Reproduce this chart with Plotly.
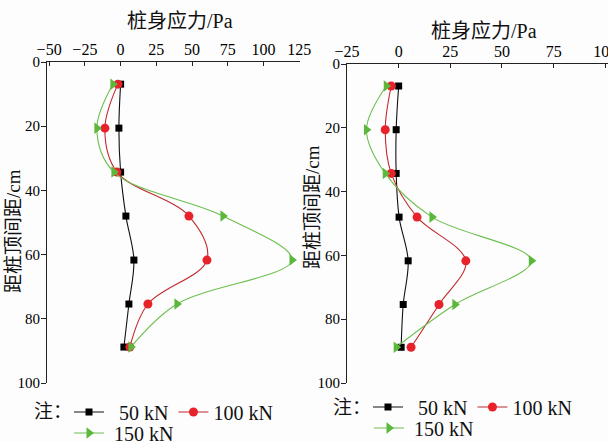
import plotly.graph_objects as go

# ---- data ----
depth = [6.9, 20.6, 34.3, 48.0, 61.7, 75.4, 88.8]          # 距桩顶间距 / cm
series_names = ["50 kN", "100 kN", "150 kN"]

left_50 = [0.0, -1.2, 0.0, 3.7, 9.3, 5.8, 2.3]
left_100 = [-1.9, -11.0, -2.6, 47.8, 60.4, 19.1, 6.5]
left_150 = [-5.4, -16.6, -4.7, 71.6, 119.9, 39.4, 7.2]

right_50 = [0.0, -1.2, -1.2, 0.2, 4.6, 2.2, 1.2]
right_100 = [-3.6, -6.5, -3.6, 8.9, 32.5, 19.5, 6.0]
right_150 = [-6.0, -15.6, -6.5, 16.1, 64.2, 27.2, -1.2]

x_title = "桩身应力/Pa"
y_title = "距桩顶间距/cm"
legend_note = "注："

# ---- layout helpers (pixel -> paper) ----
W, H = 608, 442
ML, MR, MT, MB = 47, 0, 62, 59
PW, PH = W - ML - MR, H - MT - MB


def px(p):
    return (p - ML) / PW


def py(p):
    return (H - MB - p) / PH


FONT = "Liberation Serif, Noto Sans CJK SC, serif"

styles = [
    dict(line=dict(color="#111111", width=1.1),
         marker=dict(symbol="square", size=7, color="#000000")),
    dict(line=dict(color="#c0282c", width=1.1),
         marker=dict(symbol="circle", size=9, color="#e8222a")),
    dict(line=dict(color="#6cbf4e", width=1.1),
         marker=dict(symbol="triangle-right", size=10, color="#5cb83c")),
]

fig = go.Figure()

left_sets = [left_50, left_100, left_150]
right_sets = [right_50, right_100, right_150]
left_legends = ["legend", "legend", "legend2"]
right_legends = ["legend3", "legend3", "legend4"]
labels = ["\u00a0\u00a0" + series_names[0], series_names[1], "\u00a0" + series_names[2]]

for i, vals in enumerate(left_sets):
    fig.add_trace(go.Scatter(
        x=vals, y=depth, mode="lines+markers", name=labels[i],
        line=dict(shape="spline", **styles[i]["line"]), marker=styles[i]["marker"],
        xaxis="x", yaxis="y", legend=left_legends[i]))

for i, vals in enumerate(right_sets):
    fig.add_trace(go.Scatter(
        x=vals, y=depth, mode="lines+markers", name=labels[i],
        line=dict(shape="spline", **styles[i]["line"]), marker=styles[i]["marker"],
        xaxis="x2", yaxis="y2", legend=right_legends[i]))

axis_common = dict(showgrid=False, zeroline=False, showline=True,
                   linecolor="#222222", linewidth=1.2,
                   tickcolor="#222222", ticklabeloverflow="allow")
xtick_font = dict(family=FONT, size=16, color="#000000")
ytick_font = dict(family=FONT, size=15, color="#000000")

fig.update_layout(
    width=W, height=H,
    margin=dict(l=ML, r=MR, t=MT, b=MB, autoexpand=False),
    paper_bgcolor="#fdfdfd", plot_bgcolor="#fdfdfd",
    font=dict(family=FONT, color="#111111"),
    xaxis=dict(domain=[0, px(300)], range=[-51.5, 125.5], side="top",
               anchor="y", tick0=-50, dtick=25, ticks="inside", ticklen=4,
               tickfont=xtick_font, **axis_common),
    yaxis=dict(domain=[0, 1], range=[100, 0], anchor="x", tick0=0, dtick=20,
               ticks="outside", ticklen=5, tickfont=ytick_font,
               ticklabelstandoff=-2, **axis_common),
    xaxis2=dict(domain=[px(347), 1], range=[-25, 101.3], side="top",
                anchor="y2", tick0=-25, dtick=25, ticks="inside", ticklen=4,
                tickfont=xtick_font, **axis_common),
    yaxis2=dict(domain=[0, py(64)], range=[100, 0], anchor="x2", tick0=0,
                dtick=20, ticks="outside", ticklen=5, tickfont=ytick_font,
                ticklabelstandoff=-2, **axis_common),
)

leg_common = dict(orientation="h", bgcolor="rgba(0,0,0,0)", borderwidth=0,
                  font=dict(family=FONT, size=20, color="#111111"),
                  xanchor="left", yanchor="middle", itemclick=False,
                  tracegroupgap=0)

fig.update_layout(
    legend=dict(x=px(69), y=py(412), **leg_common),
    legend2=dict(x=px(69), y=py(433), **leg_common),
    legend3=dict(x=px(368), y=py(407), **leg_common),
    legend4=dict(x=px(369), y=py(428), **leg_common),
)

note_font = dict(family=FONT, size=19, color="#111111")
fig.add_annotation(text=legend_note, x=px(32), y=py(412), xref="paper", yref="paper",
                   showarrow=False, font=note_font, xanchor="left", yanchor="middle")
fig.add_annotation(text=legend_note, x=px(331), y=py(407), xref="paper", yref="paper",
                   showarrow=False, font=note_font, xanchor="left", yanchor="middle")

title_font = dict(family=FONT, size=20, color="#111111")
ytitle_font = dict(family=FONT, size=19, color="#111111")
fig.add_annotation(text=x_title, x=px(180), y=py(21), xref="paper", yref="paper",
                   showarrow=False, font=title_font, xanchor="center", yanchor="middle")
fig.add_annotation(text=x_title, x=px(484), y=py(31), xref="paper", yref="paper",
                   showarrow=False, font=title_font, xanchor="center", yanchor="middle")
fig.add_annotation(text=y_title, x=px(14), y=py(231), xref="paper", yref="paper",
                   showarrow=False, font=ytitle_font, textangle=-90,
                   xanchor="center", yanchor="middle")
fig.add_annotation(text=y_title, x=px(312), y=py(207), xref="paper", yref="paper",
                   showarrow=False, font=ytitle_font, textangle=-90,
                   xanchor="center", yanchor="middle")

fig.write_html("out.html", config={"displayModeBar": False},
               post_script="document.body.style.margin='0';"
                           "document.body.style.overflow='hidden';")
